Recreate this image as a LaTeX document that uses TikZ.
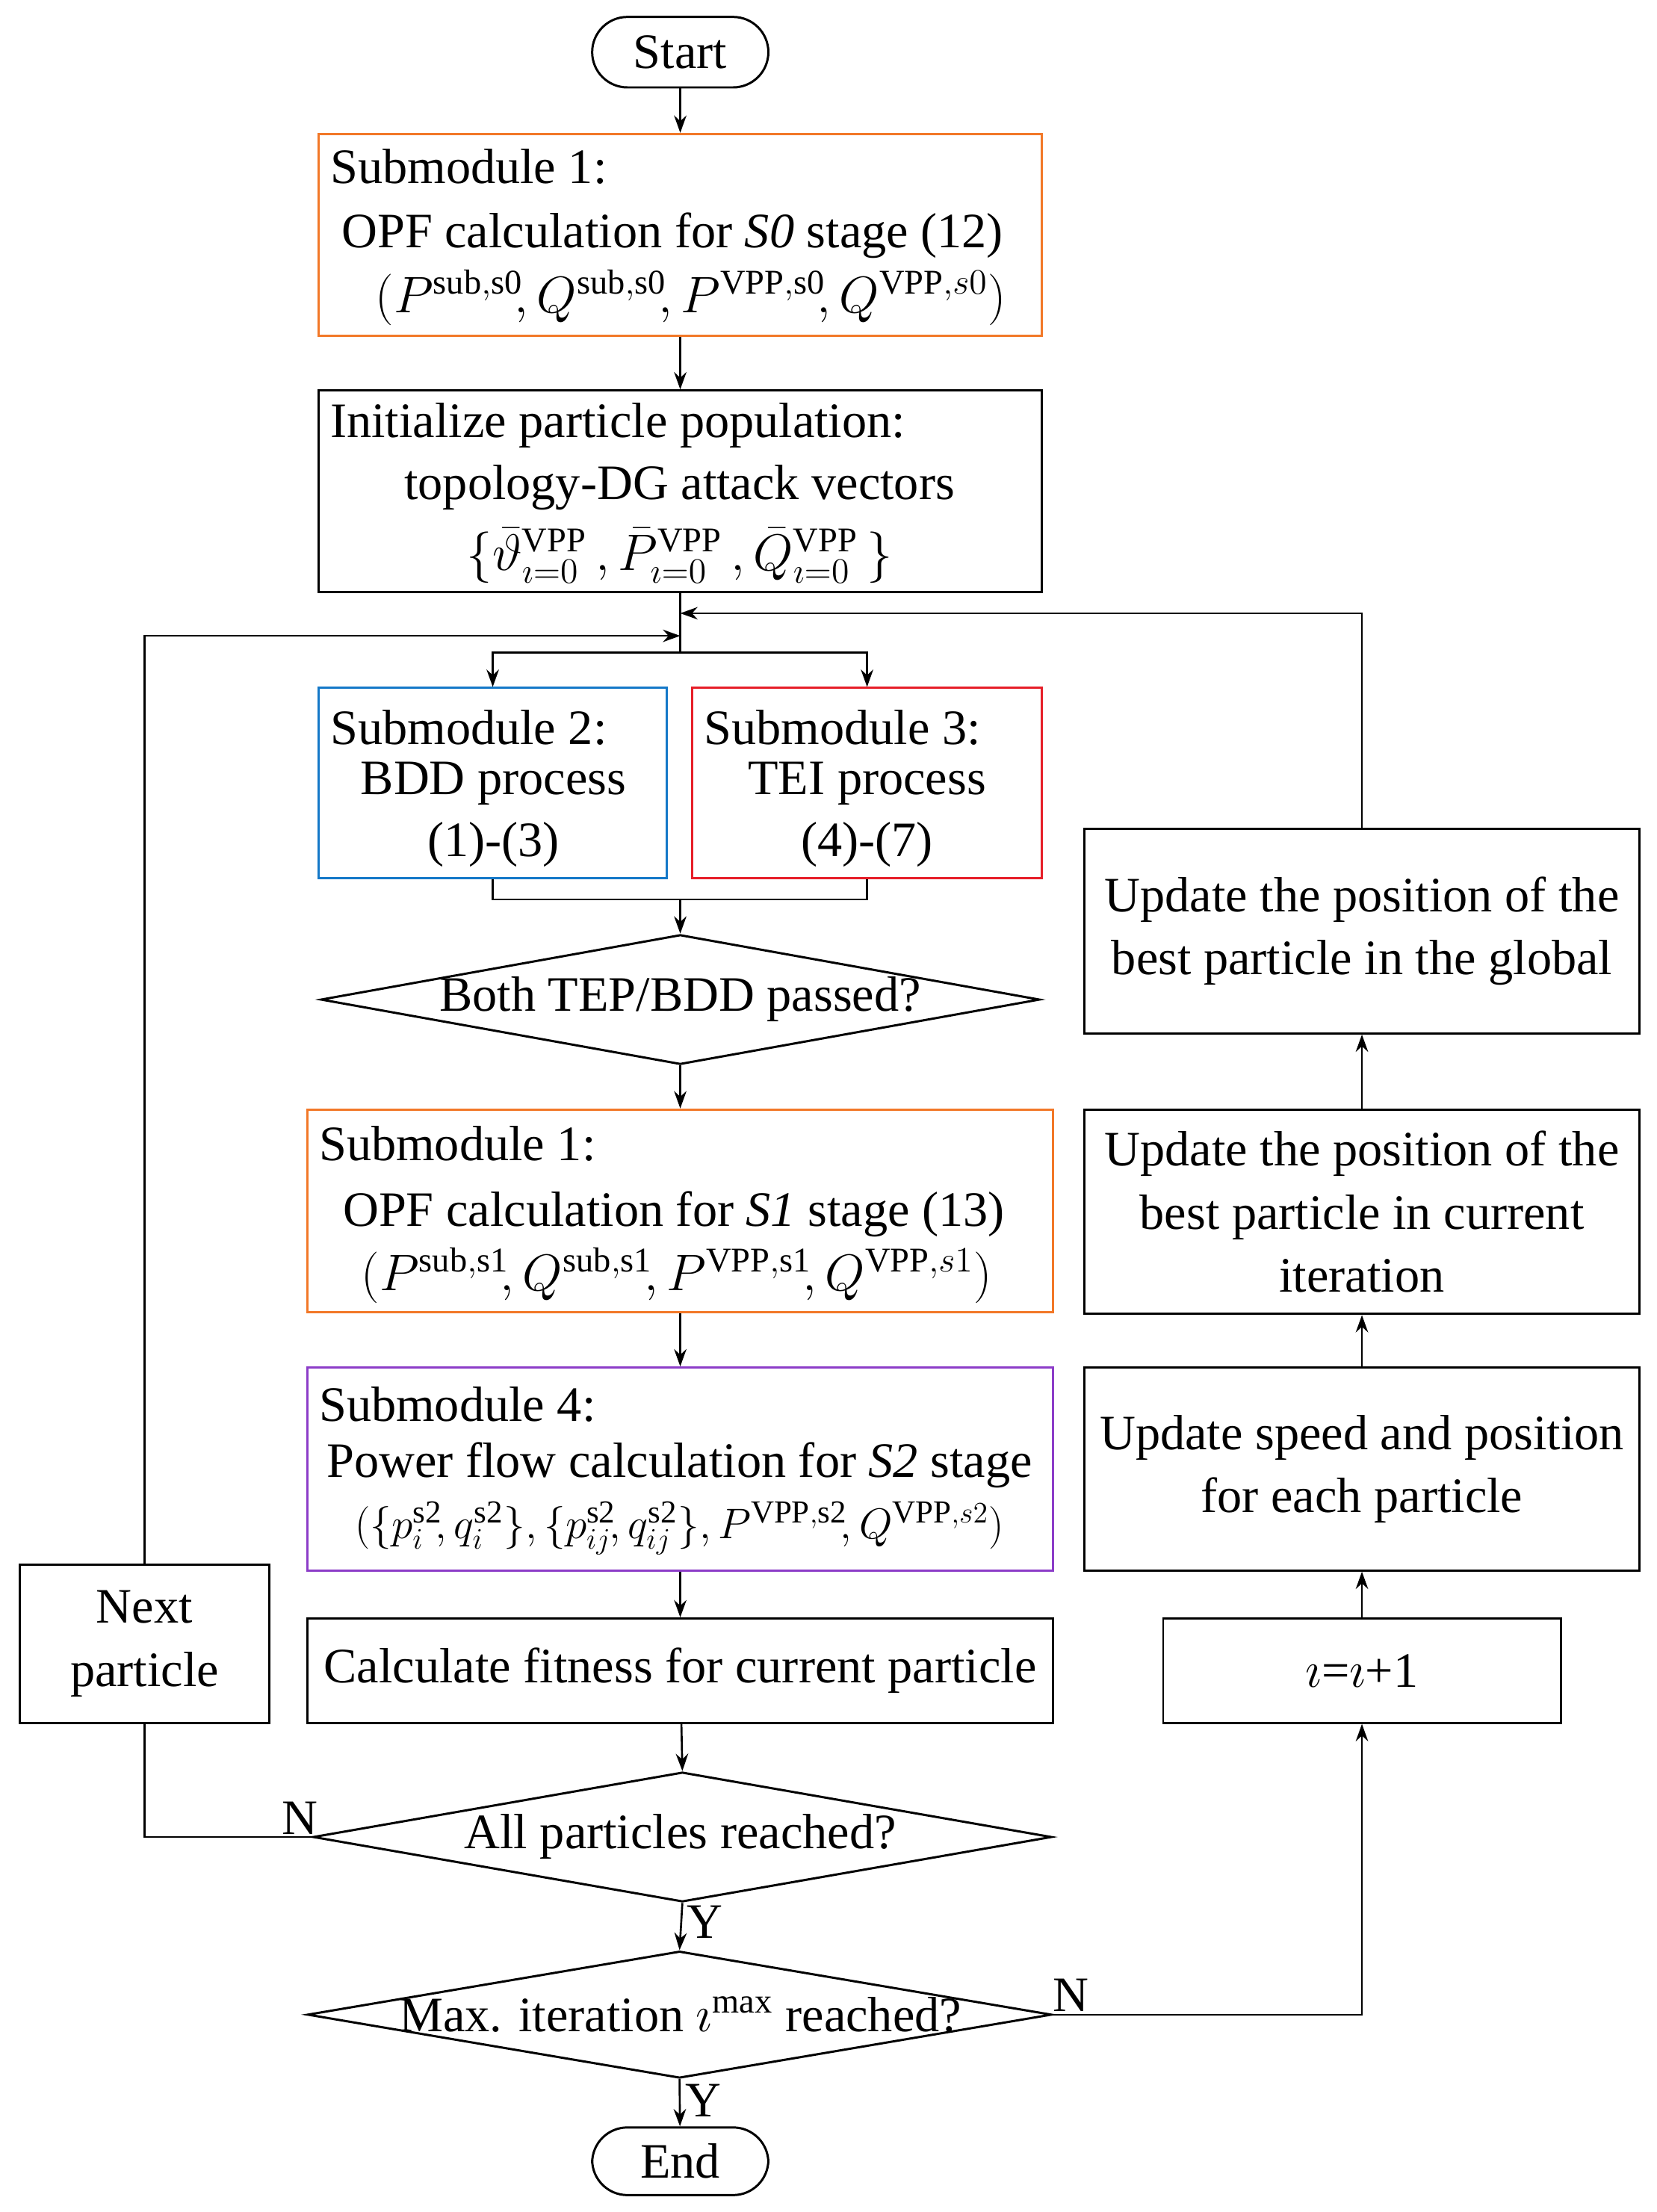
\documentclass[tikz,border=0pt]{standalone}
\usepackage{fontspec}
\setmainfont{Liberation Serif}
\usetikzlibrary{shapes.geometric,arrows.meta}
\begin{document}
\begin{tikzpicture}[x=0.02cm,y=-0.02cm,
  every node/.style={font=\fontsize{20}{25.5}\selectfont},
  box/.style={draw,line width=0.9pt,inner sep=0},
  dia/.style={draw,diamond,line width=0.9pt,inner sep=0},
  t/.style={inner sep=0,align=center},
  arr/.style={-{Stealth[length=7pt,width=5pt]},line width=0.8pt},
  ln/.style={line width=0.8pt}]
\useasboundingbox (0,0) rectangle (1175,1569);
\definecolor{orng}{RGB}{242,120,40}
\definecolor{blu}{RGB}{20,120,200}
\definecolor{rd}{RGB}{230,30,40}
\definecolor{prp}{RGB}{140,60,200}
% nodes
\node[box,rounded corners=0.5cm,minimum width=2.5cm,minimum height=1cm] (start) at (482.5,37) {Start};
\node[box,draw=orng,minimum width=10.26cm,minimum height=2.86cm] (s1) at (482.5,166.5) {};
\node[t,anchor=west] (s1a) at (234,118) {Submodule 1:};
\node[t] (s1b) at (477,167) {OPF calculation for \textit{S0} stage (12)};
\node[t] (s1c) at (490,211) {$(P^{\mathrm{sub,s0}}\!,Q^{\mathrm{sub,s0}}\!,P^{\mathrm{VPP,s0}}\!,Q^{\mathrm{VPP,}s0})$};
\node[box,minimum width=10.26cm,minimum height=2.86cm] (init) at (482.5,348.5) {};
\node[t,anchor=west] (ia) at (234,302) {Initialize particle population:};
\node[t] (ib) at (482,346) {topology-DG attack vectors};
\node[t] (ic) at (482,394) {$\{\bar{\vartheta}^{\mathrm{VPP}}_{\imath=0}\,,\bar{P}^{\mathrm{VPP}}_{\imath=0}\,,\bar{Q}^{\mathrm{VPP}}_{\imath=0}\,\}$};
\coordinate (j1) at (482.5,435);
\coordinate (j2) at (482.5,451);
\coordinate (j3) at (482.5,463);
\node[box,draw=blu,minimum width=4.94cm,minimum height=2.7cm] (s2) at (349.5,555.5) {};
\node[t,anchor=west] (s2a) at (234,516) {Submodule 2:};
\node[t] (s2b) at (350,556) {BDD process};
\node[t] (s2c) at (350,599) {(1)-(3)};
\node[box,draw=rd,minimum width=4.96cm,minimum height=2.7cm] (s3) at (615,555.5) {};
\node[t,anchor=west] (s3a) at (499,516) {Submodule 3:};
\node[t] (s3b) at (615,556) {TEI process};
\node[t] (s3c) at (615,599) {(4)-(7)};
\coordinate (j4) at (482.5,638);
\node[dia,minimum width=10.2cm,minimum height=1.84cm] (d1) at (482.5,709) {};
\node[t] (d1t) at (482.5,709) {Both TEP/BDD passed?};
\node[box,draw=orng,minimum width=10.58cm,minimum height=2.88cm] (s1x) at (482.5,859) {};
\node[t,anchor=west] (s1xa) at (226,811) {Submodule 1:};
\node[t] (s1xb) at (478,861) {OPF calculation for \textit{S1} stage (13)};
\node[t] (s1xc) at (480,905) {$(P^{\mathrm{sub,s1}}\!,Q^{\mathrm{sub,s1}}\!,P^{\mathrm{VPP,s1}}\!,Q^{\mathrm{VPP,}s1})$};
\node[box,draw=prp,minimum width=10.58cm,minimum height=2.88cm] (s4) at (482.5,1042) {};
\node[t,anchor=west] (s4a) at (226,996) {Submodule 4:};
\node[t] (s4b) at (482,1039) {Power flow calculation for \textit{S2} stage};
\node[t,font=\fontsize{18.5}{24}\selectfont] (s4c) at (482,1084) {$(\{p_i^{\mathrm{s2}}\!,q_i^{\mathrm{s2}}\},\{p_{ij}^{\mathrm{s2}}\!,q_{ij}^{\mathrm{s2}}\},P^{\mathrm{VPP,s2}}\!,Q^{\mathrm{VPP,}s2})$};
\node[box,minimum width=10.58cm,minimum height=1.48cm] (calc) at (482.5,1185) {Calculate fitness for current particle};
\node[dia,minimum width=10.48cm,minimum height=1.84cm] (d2) at (484,1303) {};
\node[t] (d2t) at (482.5,1303) {All particles reached?};
\node[dia,minimum width=10.56cm,minimum height=1.8cm] (d3) at (482,1429) {};
\node[t] (d3t) at (482.5,1429) {Max. iteration $\imath^{\mathrm{max}}$ reached?};
\node[box,rounded corners=0.5cm,minimum width=2.5cm,minimum height=0.96cm] (end) at (482.5,1533) {End};
\node[box,minimum width=3.54cm,minimum height=2.24cm,align=center] (next) at (102.5,1166) {Next\\particle};
\node[box,minimum width=7.88cm,minimum height=2.9cm,align=center] (glob) at (966,660.5) {Update the position of the\\best particle in the global};
\node[box,minimum width=7.88cm,minimum height=2.9cm,align=center] (cur) at (966,859.5) {Update the position of the\\best particle in current\\iteration};
\node[box,minimum width=7.88cm,minimum height=2.88cm,align=center] (spd) at (966,1042) {Update speed and position\\for each particle};
\node[box,minimum width=5.64cm,minimum height=1.48cm] (tt) at (966,1185) {$\imath$=$\imath$+1};
% connectors
\draw[arr] (start) -- (s1);
\draw[arr] (s1) -- (init);
\draw[ln] (init.south) -- (j3);
\draw[arr] (j3) -| (s2.north);
\draw[arr] (j3) -| (s3.north);
\draw[ln] (s2.south) |- (j4) -| (s3.south);
\draw[arr] (j4) -- (d1.north);
\draw[arr] (d1.south) -- (s1x);
\draw[arr] (s1x) -- (s4);
\draw[arr] (s4) -- (calc);
\draw[arr] (calc) -- (d2.north);
\draw[arr] (d2.south) -- (d3.north) node[pos=0.4,right,inner sep=2pt] {Y};
\draw[arr] (d3.south) -- (end) node[pos=0.45,right,inner sep=2pt] {Y};
\draw[ln] (d2.west) -| (next.south);
\node[anchor=south west,inner sep=1pt] (nlab) at (198,1303) {N};
\draw[arr] (next.north) |- (j2);
\draw[arr] (d3.east) -| (tt.south);
\node[anchor=south west,inner sep=1pt] (nlab2) at (745,1429) {N};
\draw[arr] (tt) -- (spd);
\draw[arr] (spd) -- (cur);
\draw[arr] (cur) -- (glob);
\draw[arr] (glob.north) |- (j1);
\end{tikzpicture}
\end{document}
